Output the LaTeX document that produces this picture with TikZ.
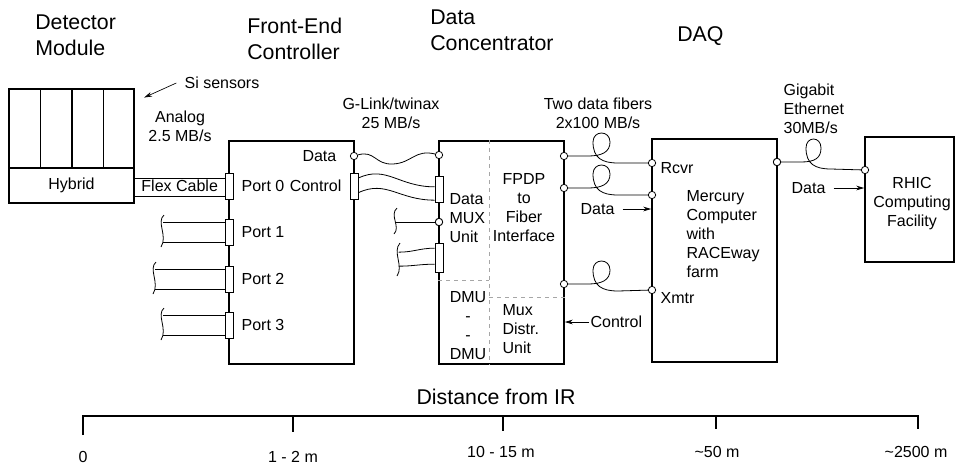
\documentclass[tikz,border=0pt]{standalone}
\usepackage{fontspec}
\setmainfont{Liberation Sans}
\usepackage{tikz}
\usetikzlibrary{arrows.meta, positioning, calc, fit}
\tikzset{
	box/.style={draw, line width=1.2pt, inner sep=0pt},
	port/.style={draw, fill=white, line width=0.6pt, minimum width=6pt, minimum height=19.5pt, inner sep=0pt},
	jack/.style={circle, draw, fill=white, line width=0.6pt, minimum size=5.5pt, inner sep=0pt},
	cable/.style={line width=0.6pt},
	divider/.style={gray!70, dashed, line width=0.5pt},
	sig/.style={-{Stealth[length=6pt, width=3.5pt]}, line width=0.6pt},
	title/.style={font=\fontsize{16}{19.5}\selectfont, inner sep=0pt},
	lbl/.style={font=\fontsize{12}{14.3}\selectfont, inner sep=1pt},
}

\begin{document}
\begin{tikzpicture}[x=0.75pt, y=-0.75pt]
		\useasboundingbox (0,0) rectangle (956,465);

		% Detector module
		\node[box, fit={(9,89) (134,168)}] (sens) {};
		\node[box, fit={(9,168) (134,203)}] (hyb) {};
		\foreach \f in {0.256,0.504,0.752}
			\draw[line width=1.2pt] ($(sens.north west)!\f!(sens.north east)$) -- ($(sens.south west)!\f!(sens.south east)$);
		\node[lbl] at (hyb.center) {Hybrid};
		\node[title, anchor=north west, align=left] (tDet) at (35,15) {Detector\\Module};
		\node[lbl, anchor=west] (si) at (183,83) {Si sensors};
		\draw[sig, line width=0.5pt] ([xshift=-5pt]si.west) -- ([xshift=7pt, yshift=-7pt]sens.north east);
		\node[lbl, anchor=north, align=center] (analog) at (180,109) {Analog\\2.5 MB/s};

		% Front-end controller
		\node[box, fit={(229,141) (354,364)}] (fec) {};
		\node[title, anchor=north west, align=left] (tFec) at (247,18) {Front-End\\Controller};
		\node[port] (p0) at (229,186) {};
		\node[port] (p1) at (229,232) {};
		\node[port] (p2) at (229,279) {};
		\node[port] (p3) at (229,325) {};
		\draw[cable] ($(p0.west)+(0,-8)$) -- ($(p0.west -| hyb.east)+(0,-8)$);
		\draw[cable] ($(p0.west)+(0,10)$) -- ($(p0.west -| hyb.east)+(0,10)$);
		\node[lbl] at ($(hyb.east)!0.5!(p0.west)$) {Flex Cable};
		\draw[cable] ($(p1.west)+(0,-10)$) -- ++(-62,0);
		\draw[cable] ($(p1.west)+(0,10)$) -- ++(-62,0);
		\draw[cable] (164,215) .. controls (156,222) and (168,236) .. (161,247);
		\draw[cable] ($(p2.west)+(0,-10)$) -- ++(-70,0);
		\draw[cable] ($(p2.west)+(0,10)$) -- ++(-70,0);
		\draw[cable] (156,262) .. controls (148,269) and (160,283) .. (153,294);
		\draw[cable] ($(p3.west)+(0,-10)$) -- ++(-62,0);
		\draw[cable] ($(p3.west)+(0,10)$) -- ++(-62,0);
		\draw[cable] (164,308) .. controls (156,315) and (168,329) .. (161,340);
		\node[lbl, right=5pt of p0] {Port 0};
		\node[lbl, right=5pt of p1] {Port 1};
		\node[lbl, right=5pt of p2] {Port 2};
		\node[lbl, right=5pt of p3] {Port 3};
		\node[port] (fecC) at (354,186) {};
		\node[jack] (fecD) at (354,156) {};
		\node[lbl, left=9pt of fecD] {Data};
		\node[lbl, left=5pt of fecC] {Control};

		% Data concentrator
		\node[box, fit={(439,141) (564,364)}] (dc) {};
		\node[title, anchor=north west, align=left] (tDc) at (430,10) {Data\\Concentrator};
		\coordinate (dmuTop) at (489,280);
		\coordinate (mduTop) at (489,297);
		\draw[divider] (dc.north -| dmuTop) -- (dc.south -| dmuTop);
		\draw[divider] (dc.west |- dmuTop) -- (dmuTop);
		\draw[divider] (mduTop) -- (mduTop -| dc.east);
		\node[port] (dcC) at (439,189.5) {};
		\node[port, minimum height=21.75pt] (dcM) at (439,257.5) {};
		\node[jack] (dcD) at (439,155) {};
		\node[jack] (dcS) at (439,222) {};
		\node[jack] (dcR1) at (564,156) {};
		\node[jack] (dcR2) at (564,188) {};
		\node[jack] (dcR3) at (564,284) {};
		\node[lbl, anchor=north west, align=left] at (448,192) {Data\\MUX\\Unit};
		\node[lbl, anchor=north, align=center] at (524,172) {FPDP\\to\\Fiber\\Interface};
		\node[lbl, anchor=north, align=center] at (468,290) {DMU\\-\\-\\DMU};
		\node[lbl, anchor=north west, align=left] at (501,303) {Mux\\Distr.\\Unit};

		% G-Link / twinax
		\draw[cable] (fecD) .. controls (375,150) and (375,165) .. (393,164) .. controls (412,163) and (415,149) .. (dcD);
		\draw[cable] ([yshift=6pt]fecC.east) .. controls +(28,-13) and +(-36,0) .. ([yshift=2pt]dcC.west);
		\draw[cable] ([yshift=-5pt]fecC.east) .. controls +(28,-13) and +(-36,0) .. ([yshift=-8pt]dcC.west);
		\node[lbl, anchor=north, align=center] (glink) at (391,96) {G-Link/twinax\\25 MB/s};

		% cables into the MUX unit
		\draw[cable] (dcS) -- ++(-43,0);
		\draw[cable] (397,208) .. controls (389,215) and (401,227) .. (394,234);
		\draw[cable] ([yshift=7pt]dcM.west) .. controls +(-15,0) and +(15,0) .. ++(-36,4);
		\draw[cable] ([yshift=-5pt]dcM.west) .. controls +(-15,0) and +(15,0) .. ++(-36,2);
		\draw[cable] (400,243) .. controls (392,252) and (404,266) .. (397,276);
		\node[jack] at (dcS) {};

		% DAQ
		\node[box, fit={(652,139) (777,362)}] (mer) {};
		\node[title, anchor=north west] (tDaq) at (677,26) {DAQ};
		\node[lbl, anchor=north west, align=left] at (685,189) {Mercury\\Computer\\with\\RACEway\\farm};
		\node[jack] (merR1) at (652,163) {};
		\node[jack] (merR2) at (652,195) {};
		\node[jack] (merX) at (652,290) {};
		\node[jack] (merO) at (777,162) {};
		\node[lbl, anchor=west] at (659,168) {Rcvr};
		\node[lbl, anchor=west] at (659,298) {Xmtr};

		% fibers
		\draw[cable] (dcR1) -- ++(24,0) .. controls +(14,0) and +(0,10) .. ++(22,-14) .. controls +(0,-12) and +(0,-12) .. ++(-17,0) .. controls +(0,16) and +(-16,0) .. ++(25,21) -- (merR1);
		\draw[cable] (dcR2) -- ++(24,0) .. controls +(14,0) and +(0,10) .. ++(22,-14) .. controls +(0,-12) and +(0,-12) .. ++(-17,0) .. controls +(0,16) and +(-16,0) .. ++(25,21) -- (merR2);
		\draw[cable] (dcR3) -- ++(24,0) .. controls +(14,0) and +(0,10) .. ++(22,-14) .. controls +(0,-12) and +(0,-12) .. ++(-17,0) .. controls +(0,16) and +(-16,0) .. ++(25,21) -- (merX);
		\node[lbl, anchor=north, align=center] (fibers) at (598,96) {Two data fibers\\2x100 MB/s};
		\node[lbl, anchor=east] (merIn) at (616,209) {Data};
		\draw[sig] ([xshift=5pt]merIn.east) -- (merIn -| mer.west);
		\node[lbl, anchor=west] (dcCtl) at (589,322) {Control};
		\draw[sig] (dcCtl.west) -- (dcCtl -| dc.east);

		% RHIC computing facility
		\node[box, fit={(865,137) (954,262)}] (rhic) {};
		\node[jack] (rhD) at (865,170) {};
		\node[lbl, anchor=north, align=center] at (912,176) {RHIC\\Computing\\Facility};
		\draw[cable] (merO) -- ++(24,0) .. controls +(14,0) and +(0,10) .. ++(20,-14) .. controls +(0,-12) and +(0,-12) .. ++(-15,0) .. controls +(0,16) and +(-16,0) .. ++(25,21) -- (rhD);
		\node[jack] at (merO) {};
		\node[lbl, anchor=north west, align=left] (gbe) at (782,82) {Gigabit\\Ethernet\\30MB/s};
		\node[lbl, anchor=east] (rhIn) at (827,188) {Data};
		\draw[sig] ([xshift=5pt]rhIn.east) -- (rhIn -| rhic.west);

		% Distance scale
		\node[title] (dist) at (496,397) {Distance from IR};
		\coordinate (ax0) at (83,416);
		\coordinate (ax4) at (918,416);
		\draw[line width=0.8pt] ($(ax0)+(0,19)$) -- (ax0) -- (ax4) -- ($(ax4)+(0,13)$);
		\draw[line width=0.8pt] (293,416) -- ++(0,16);
		\draw[line width=0.8pt] (503,416) -- ++(0,15);
		\draw[line width=0.8pt] (716,416) -- ++(0,13);
		\node[lbl] at (83,457) {0};
		\node[lbl] at (293,457) {1 - 2 m};
		\node[lbl] at (501,452) {10 - 15 m};
		\node[lbl] at (717,452) {\textasciitilde50 m};
		\node[lbl] at (916,452) {\textasciitilde2500 m};
	\end{tikzpicture}
\end{document}
